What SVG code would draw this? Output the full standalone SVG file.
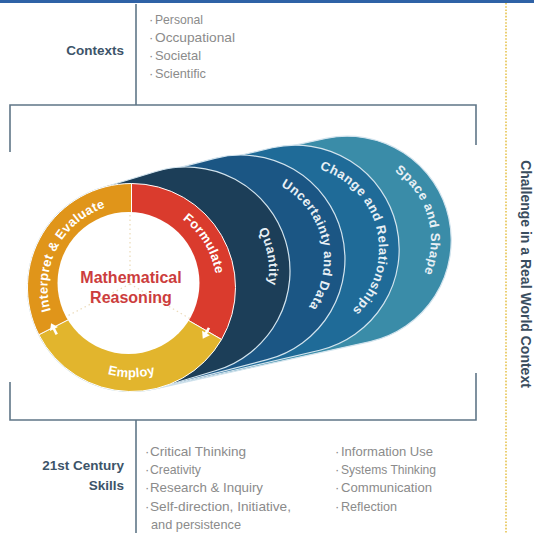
<svg xmlns="http://www.w3.org/2000/svg" width="534" height="533" viewBox="0 0 534 533">
<style>
.frame{stroke:#5f7687;stroke-width:1.6;fill:none}
.head{font-family:"Liberation Sans",Arial,sans-serif;font-weight:bold;font-size:13.5px;fill:#3d5469}
.item{font-family:"Liberation Sans",Arial,sans-serif;font-size:13px;fill:#8b8b8b}
.ring{font-family:"Liberation Sans",Arial,sans-serif;font-weight:bold;font-size:13px;fill:#ffffff;letter-spacing:0.3px}
.lay{font-family:"Liberation Sans",Arial,sans-serif;font-weight:bold;font-size:13px;fill:#e8f0f5;letter-spacing:0.5px}
.layer{stroke:#d3e4ee;stroke-width:1.2}
.seg{stroke:#ffffff;stroke-width:1}
.dots{stroke:#ecdcbc;stroke-width:1.3;stroke-dasharray:1.5 3;fill:none}
</style>
<defs>
<path id="pQ" d="M186,188 A83,83 0 0 1 214.4,349"/>
<path id="pU" d="M236.7,176.1 A83,83 0 0 1 273.4,335.4"/>
<path id="pC" d="M291.7,166.1 A83,83 0 0 1 328.4,325.4"/>
<path id="pS" d="M339.3,157.5 A83,83 0 0 1 384.4,314.6"/>
<path id="pI" d="M79.8,353.7 A84,84 0 0 1 157.5,207.6"/>
<path id="pF" d="M101,208.1 A85,85 0 0 1 187.3,351.6"/>
<path id="pE" d="M42.9,303.1 A90,90 0 0 0 220.1,303.1"/>
<g id="arrow"><path d="M0,-6 V2" stroke="#ffffff" stroke-width="2.6"/><polygon points="-4.5,0 4.5,0 0,6.5" fill="#ffffff"/></g>
</defs>
<rect x="0" y="0" width="534" height="3" fill="#2f62a6"/>
<g id="connectors">
<path class="frame" d="M136,4 V105"/>
<path class="frame" d="M10,152 V105 H476 V145"/>
<path class="frame" d="M10,382 V420 H476 V373"/>
<path class="frame" d="M136,420 V533"/>
<path d="M506,3 V533" stroke="#e6c34f" stroke-width="1.6" stroke-dasharray="1.6 1.6" fill="none"/>
</g>
<g id="contexts">
<text class="head" x="124" y="55" text-anchor="end">Contexts</text>
<text class="item" x="149" y="24">·<tspan x="155" textLength="48" lengthAdjust="spacingAndGlyphs">Personal</tspan></text>
<text class="item" x="149" y="42">·<tspan x="155" textLength="80" lengthAdjust="spacingAndGlyphs">Occupational</tspan></text>
<text class="item" x="149" y="60">·<tspan x="155" textLength="46" lengthAdjust="spacingAndGlyphs">Societal</tspan></text>
<text class="item" x="149" y="78">·<tspan x="155" textLength="51" lengthAdjust="spacingAndGlyphs">Scientific</tspan></text>
</g>
<g id="skills">
<text class="head" x="124" y="469.5" text-anchor="end">21st Century</text>
<text class="head" x="124" y="490" text-anchor="end">Skills</text>
<text class="item" x="145" y="456">·<tspan x="150" textLength="96" lengthAdjust="spacingAndGlyphs">Critical Thinking</tspan></text>
<text class="item" x="145" y="474">·<tspan x="150" textLength="51" lengthAdjust="spacingAndGlyphs">Creativity</tspan></text>
<text class="item" x="145" y="492">·<tspan x="150" textLength="113" lengthAdjust="spacingAndGlyphs">Research &amp; Inquiry</tspan></text>
<text class="item" x="145" y="510.5">·<tspan x="150" textLength="141" lengthAdjust="spacingAndGlyphs">Self-direction, Initiative,</tspan></text>
<text class="item" x="151" y="528.5" textLength="90" lengthAdjust="spacingAndGlyphs">and persistence</text>
<text class="item" x="335" y="456">·<tspan x="341" textLength="92" lengthAdjust="spacingAndGlyphs">Information Use</tspan></text>
<text class="item" x="335" y="474">·<tspan x="341" textLength="95" lengthAdjust="spacingAndGlyphs">Systems Thinking</tspan></text>
<text class="item" x="335" y="492">·<tspan x="341" textLength="91" lengthAdjust="spacingAndGlyphs">Communication</tspan></text>
<text class="item" x="335" y="510.5">·<tspan x="341" textLength="56" lengthAdjust="spacingAndGlyphs">Reflection</tspan></text>
</g>
<g id="challenge">
<text class="head" transform="translate(520.5,274) rotate(90)" text-anchor="middle" style="font-size:14px;fill:#3a4d5e">Challenge in a Real World Context</text>
</g>
<g id="space-and-shape">
<path class="layer" fill="#3a8ca8" d="M109.21,185.92 L325.71,138.42 A104,104 0 0 1 370.29,341.58 L153.79,389.08 A104,104 0 0 1 109.21,185.92 Z"/>
<text class="lay"><textPath href="#pS" startOffset="50%" text-anchor="middle">Space and Shape</textPath></text>
</g>
<g id="change-and-relationships">
<path class="layer" fill="#1f6b98" d="M107.80,186.24 L272.30,147.74 A104,104 0 0 1 319.70,350.26 L155.20,388.76 A104,104 0 0 1 107.80,186.24 Z"/>
<text class="lay"><textPath href="#pC" startOffset="50%" text-anchor="middle">Change and Relationships</textPath></text>
</g>
<g id="uncertainty-and-data">
<path class="layer" fill="#1b5684" d="M105.30,186.85 L214.80,158.35 A104,104 0 0 1 267.20,359.65 L157.70,388.15 A104,104 0 0 1 105.30,186.85 Z"/>
<text class="lay"><textPath href="#pU" startOffset="50%" text-anchor="middle">Uncertainty and Data</textPath></text>
</g>
<g id="quantity">
<path class="layer" fill="#1c3e58" d="M101.36,187.96 L155.86,171.46 A104,104 0 0 1 216.14,370.54 L161.64,387.04 A104,104 0 0 1 101.36,187.96 Z"/>
<text class="lay"><textPath href="#pQ" startOffset="50%" text-anchor="middle">Quantity</textPath></text>
</g>
<g id="mathematical-reasoning">
<path class="seg" fill="#da3b2d" d="M131.5,287.5 L131.5,183.5 A104,104 0 0 1 221.57,339.5 Z"/>
<path class="seg" fill="#e2b52d" d="M131.5,287.5 L221.57,339.5 A104,104 0 0 1 38.83,334.72 Z"/>
<path class="seg" fill="#e0951a" d="M131.5,287.5 L38.83,334.72 A104,104 0 0 1 131.5,183.5 Z"/>
<circle cx="128.5" cy="283" r="71" fill="#ffffff"/>
<path class="dots" d="M130,284 V214 M130,284 L67.6,315.8 M130,284 L190.6,319"/>
<use href="#arrow" transform="translate(206,333) rotate(30)"/>
<use href="#arrow" transform="translate(54,329) rotate(153)"/>
<text class="ring"><textPath href="#pI" startOffset="50%" text-anchor="middle">Interpret &amp; Evaluate</textPath></text>
<text class="ring"><textPath href="#pF" startOffset="50%" text-anchor="middle">Formulate</textPath></text>
<text class="ring"><textPath href="#pE" startOffset="50%" text-anchor="middle">Employ</textPath></text>
<text x="131" y="283" text-anchor="middle" style="font-family:'Liberation Sans',Arial,sans-serif;font-weight:bold;font-size:16px;fill:#cc3d3d">Mathematical</text>
<text x="131" y="303" text-anchor="middle" style="font-family:'Liberation Sans',Arial,sans-serif;font-weight:bold;font-size:16px;fill:#cc3d3d">Reasoning</text>
</g>
</svg>
